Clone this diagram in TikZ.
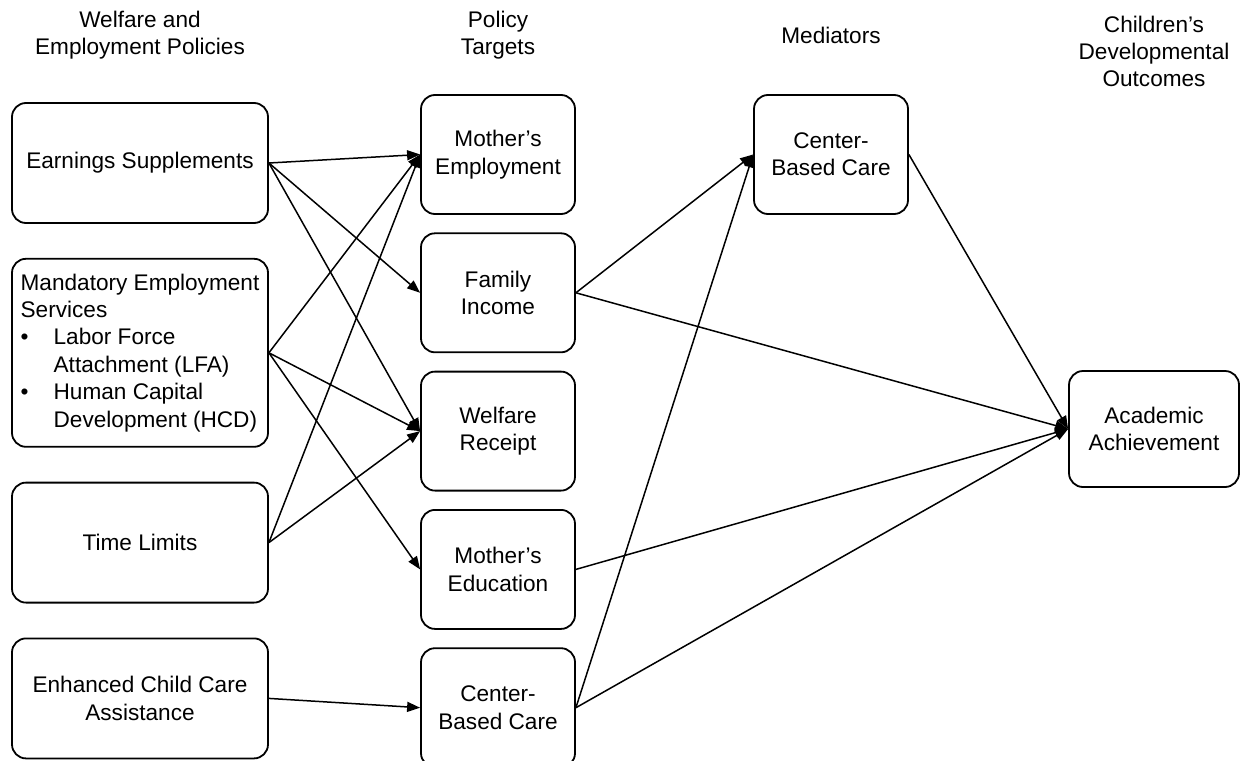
\documentclass[tikz,border=0pt]{standalone}
\usepackage{fontspec}
\setmainfont{Liberation Sans}
\usetikzlibrary{positioning}
\usetikzlibrary{arrows.meta}

\begin{document}
\begin{tikzpicture}[x=0.5pt, y=-0.5pt, ->, >={Triangle[length=6.5pt,width=5pt]}, line width=0.75pt, draw=black, font=\fontsize{11.3pt}{13.7pt}\selectfont]
		\tikzstyle{policy}=[draw=black,rectangle,rounded corners=7pt,line width=0.9pt,minimum width=128pt,minimum height=60pt,inner sep=0pt,align=center]
		\tikzstyle{target}=[policy,minimum width=77pt,minimum height=59.5pt]
		\tikzstyle{annot}=[align=center,inner sep=0pt]

		\useasboundingbox (0,0) rectangle (1240,760);

		% welfare and employment policies
		\node[policy] (es) at (140,163) {Earnings Supplements};
		\node[policy, below=17pt of es, minimum height=94pt, align=left] (mes) {Mandatory Employment\\Services\\\makebox[16.5pt][l]{\textbullet}Labor Force\\\hspace*{16.5pt}Attachment (LFA)\\\makebox[16.5pt][l]{\textbullet}Human Capital\\\hspace*{16.5pt}Development (HCD)};
		\node[policy, below=17pt of mes] (tl) {Time Limits};
		\node[policy, below=17pt of tl] (ecc) {Enhanced Child Care\\Assistance};

		% policy targets
		\node[target] (memp) at (498,154.5) {Mother’s\\Employment};
		\node[target, below=8.75pt of memp] (fi) {Family\\Income};
		\node[target, below=8.75pt of fi] (wr) {Welfare\\Receipt};
		\node[target, below=8.75pt of wr] (medu) {Mother’s\\Education};
		\node[target, below=8.75pt of medu] (cbc) {Center-\\Based Care};

		% mediators and outcomes
		\node[target] (mcbc) at (831,154.5) {Center-\\Based Care};
		\node[target, minimum width=85pt, minimum height=58pt] (aa) at (1154,429) {Academic\\Achievement};

		\node[annot] at (140,35) {Welfare and\\Employment Policies};
		\node[annot] at (498,35) {Policy\\Targets};
		\node[annot] at (831,35) {Mediators};
		\node[annot] at (1154,51.5) {Children’s\\Developmental\\Outcomes};

		\path (es.east) edge (memp.west);
		\path (es.east) edge (fi.west);
		\path (es.east) edge (wr.west);
		\path (mes.east) edge (memp.west);
		\path (mes.east) edge (wr.west);
		\path (mes.east) edge (medu.west);
		\path (tl.east) edge (memp.west);
		\path (tl.east) edge (wr.west);
		\path (ecc.east) edge (cbc.west);

		\path (fi.east) edge (mcbc.west);
		\path (cbc.east) edge (mcbc.west);
		\path (fi.east) edge (aa.west);
		\path (medu.east) edge (aa.west);
		\path (cbc.east) edge (aa.west);
		\path (mcbc.east) edge (aa.west);
	\end{tikzpicture}
\end{document}
